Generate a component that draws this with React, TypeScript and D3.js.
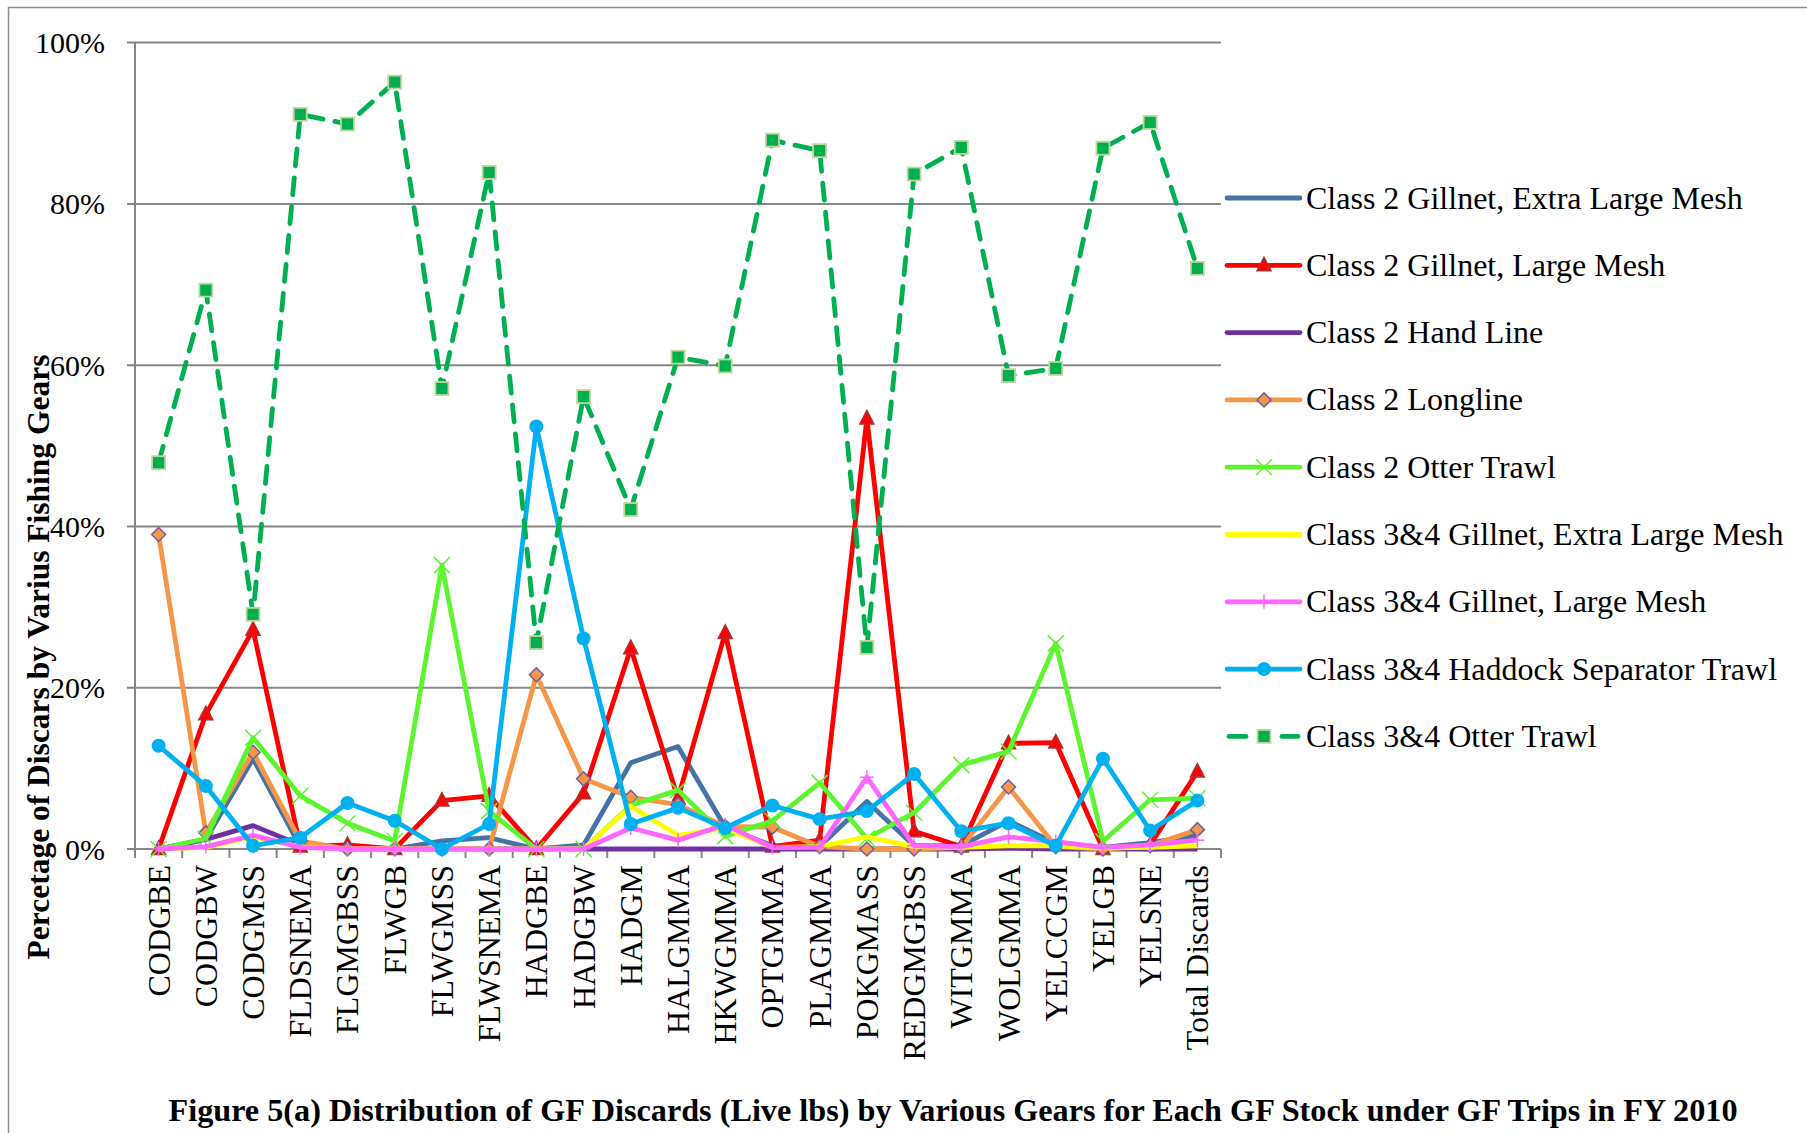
import * as d3 from "d3";
import React from "react";

const categories = [
	"CODGBE", "CODGBW", "CODGMSS", "FLDSNEMA", "FLGMGBSS", "FLWGB", "FLWGMSS",
	"FLWSNEMA", "HADGBE", "HADGBW", "HADGM", "HALGMMA", "HKWGMMA", "OPTGMMA",
	"PLAGMMA", "POKGMASS", "REDGMGBSS", "WITGMMA", "WOLGMMA", "YELCCGM",
	"YELGB", "YELSNE", "Total Discards",
];

// percentages
const gillnetXL2 = [0, 1.2, 11.2, 0.3, 0, 0, 1.0, 1.4, 0, 0.5, 10.7, 12.7, 2.7, 0.4, 0.3, 5.9, 0.4, 0.4, 3.5, 0.7, 0.2, 0.8, 1.7];
const gillnetLM2 = [0, 16.7, 27.2, 0.3, 0.5, 0, 6.0, 6.6, 0, 6.9, 24.9, 6.3, 26.8, 0.3, 1.1, 53.4, 2.2, 0.3, 13.1, 13.2, 0, 0.5, 9.6];
const handLine2 = [0, 1.2, 2.9, 0.5, 0, 0, 0, 0, 0, 0, 0, 0, 0, 0, 0, 0, 0, 0, 0.1, 0, 0, 0, 0];
const longline2 = [39.0, 2.0, 12.0, 1.0, 0, 0, 0, 0, 21.6, 8.7, 6.4, 5.5, 2.8, 2.7, 0.3, 0, 0, 0.2, 7.7, 0.3, 0, 0.4, 2.4];
const otterTrawl2 = [0, 1.3, 13.8, 6.6, 3.2, 1.0, 35.2, 4.7, 0, 0, 5.4, 7.3, 1.6, 3.5, 8.2, 1.3, 4.5, 10.4, 12.1, 25.5, 1.0, 6.1, 6.3];
const gillnetXL34 = [0, 0.2, 1.5, 0.3, 0, 0, 0, 0, 0, 0, 5.3, 1.7, 2.6, 0.2, 0.3, 1.5, 0.3, 0.2, 0.4, 0.4, 0.1, 0.2, 0.4];
const gillnetLM34 = [0, 0.3, 1.7, 0.2, 0, 0, 0, 0, 0, 0, 2.6, 1.1, 3.0, 0.2, 0.2, 8.9, 0.4, 0.3, 1.5, 0.9, 0.2, 0.5, 1.1];
const separator34 = [12.8, 7.8, 0.4, 1.4, 5.7, 3.5, 0, 3.1, 52.4, 26.1, 3.1, 5.1, 2.6, 5.4, 3.7, 4.7, 9.3, 2.2, 3.2, 0.4, 11.2, 2.3, 6.0];
const otterTrawl34 = [47.9, 69.3, 29.1, 91.1, 89.9, 95.1, 57.1, 83.9, 25.6, 56.1, 42.1, 61.0, 59.9, 87.9, 86.6, 25.0, 83.7, 87.0, 58.7, 59.6, 86.9, 90.1, 72.0];

const yTicks = [0, 20, 40, 60, 80, 100];

type Marker = "none" | "triangle" | "diamond" | "x" | "plus" | "circle" | "square";

const series: { name: string; values: number[]; color: string; marker: Marker; dashed?: boolean }[] = [
	{ name: "Class 2 Gillnet, Extra Large Mesh", values: gillnetXL2, color: "#4572A7", marker: "none" },
	{ name: "Class 2 Gillnet, Large Mesh", values: gillnetLM2, color: "#FF0000", marker: "triangle" },
	{ name: "Class 2 Hand Line", values: handLine2, color: "#7030A0", marker: "none" },
	{ name: "Class 2 Longline", values: longline2, color: "#F79646", marker: "diamond" },
	{ name: "Class 2 Otter Trawl", values: otterTrawl2, color: "#5CF52E", marker: "x" },
	{ name: "Class 3&4 Gillnet, Extra Large Mesh", values: gillnetXL34, color: "#FFFF00", marker: "none" },
	{ name: "Class 3&4 Gillnet, Large Mesh", values: gillnetLM34, color: "#FF66FF", marker: "plus" },
	{ name: "Class 3&4 Haddock Separator Trawl", values: separator34, color: "#00B0F0", marker: "circle" },
	{ name: "Class 3&4 Otter Trawl", values: otterTrawl34, color: "#00B050", marker: "square", dashed: true },
];

const W = 1807;
const H = 1133;
const plot = { left: 135, right: 1221, top: 42.6, bottom: 849 };
const FONT = "'Liberation Serif', 'Times New Roman', serif";

const drawMarker = (m: Marker, color: string, key: string | number, cx: number, cy: number) => {
	switch (m) {
		case "triangle":
			return <path key={key} d={`M${cx},${cy - 8}L${cx + 7},${cy + 5.5}L${cx - 7},${cy + 5.5}Z`} fill="#FF0000" stroke="#B03030" strokeWidth={1.5} />;
		case "diamond":
			return <path key={key} d={`M${cx},${cy - 7}L${cx + 7},${cy}L${cx},${cy + 7}L${cx - 7},${cy}Z`} fill="#F79646" stroke="#7060A0" strokeWidth={1.5} />;
		case "x":
			return <path key={key} d={`M${cx - 8},${cy - 8}L${cx + 8},${cy + 8}M${cx + 8},${cy - 8}L${cx - 8},${cy + 8}`} stroke={color} strokeWidth={1.5} />;
		case "plus":
			return <path key={key} d={`M${cx - 7},${cy}L${cx + 7},${cy}M${cx},${cy - 7}L${cx},${cy + 7}`} stroke={color} strokeWidth={1.5} />;
		case "circle":
			return <circle key={key} cx={cx} cy={cy} r={7} fill={color} />;
		case "square":
			return <rect key={key} x={cx - 6.5} y={cy - 6.5} width={13} height={13} fill="#00B050" stroke="#C3D69B" strokeWidth={1.8} />;
		default:
			return null;
	}
};

const App = () => {
	const x = d3.scaleBand().domain(categories).range([plot.left, plot.right]).padding(0);
	const y = d3.scaleLinear().domain([0, 100]).range([plot.bottom, plot.top]);
	const cx = (c: string) => (x(c) ?? 0) + x.bandwidth() / 2;

	const line = d3
		.line<number>()
		.x((_, i) => cx(categories[i]))
		.y((d) => y(d));

	const boundaries = d3.range(categories.length + 1).map((i) => plot.left + i * x.bandwidth());

	return (
		<svg width={W} height={H} style={{ position: "absolute", left: 0, top: 0, background: "#fff" }} fontFamily={FONT}>
			{/* frame */}
			<line x1={8.5} y1={7} x2={8.5} y2={H} stroke="#8c8c8c" strokeWidth={1.5} />
			<line x1={8} y1={7.5} x2={W} y2={7.5} stroke="#8c8c8c" strokeWidth={1.5} />

			{/* grid + y axis */}
			{yTicks.map((t) => (
				<g key={t}>
					<line x1={plot.left - 8} x2={plot.right} y1={y(t)} y2={y(t)} stroke="#868686" strokeWidth={2} />
					<text x={105} y={y(t)} dy="0.35em" textAnchor="end" fontSize={30}>
						{t}%
					</text>
				</g>
			))}
			<line x1={plot.left} x2={plot.left} y1={plot.top} y2={plot.bottom} stroke="#868686" strokeWidth={2} />
			{boundaries.map((b, i) => (
				<line key={i} x1={b} x2={b} y1={plot.bottom} y2={plot.bottom + 9} stroke="#868686" strokeWidth={2} />
			))}

			{/* x labels */}
			{categories.map((c) => (
				<text
					key={c}
					transform={`translate(${cx(c)},${plot.bottom + 16}) rotate(-90)`}
					textAnchor="end"
					dominantBaseline="central"
					fontSize={32}
				>
					{c}
				</text>
			))}

			{/* series */}
			{series.map((s) => (
				<g key={s.name}>
					<path
						d={line(s.values) ?? ""}
						fill="none"
						stroke={s.color}
						strokeWidth={4.8}
						strokeLinejoin="round"
						strokeLinecap={s.dashed ? "round" : "butt"}
						strokeDasharray={s.dashed ? "17 12" : undefined}
					/>
					{s.values.map((v, i) => drawMarker(s.marker, s.color, i, cx(categories[i]), y(v)))}
				</g>
			))}

			{/* legend */}
			{series.map((s, i) => {
				const ly = 198 + i * 67.3;
				return (
					<g key={s.name}>
						{s.dashed ? (
							<>
								<line x1={1229} x2={1246} y1={ly} y2={ly} stroke={s.color} strokeWidth={4.8} strokeLinecap="round" />
								<line x1={1282} x2={1298} y1={ly} y2={ly} stroke={s.color} strokeWidth={4.8} strokeLinecap="round" />
							</>
						) : (
							<line x1={1227} x2={1300} y1={ly} y2={ly} stroke={s.color} strokeWidth={4.8} strokeLinecap="round" />
						)}
						{drawMarker(s.marker, s.color, "m", 1264, ly)}
						<text x={1306} y={ly} dy="0.33em" fontSize={32}>
							{s.name}
						</text>
					</g>
				);
			})}

			{/* axis title */}
			<text
				transform="translate(38,657) rotate(-90)"
				textAnchor="middle"
				dominantBaseline="central"
				fontWeight="bold"
				fontSize={31.5}
			>
				Percetage of Discars by Varius Fishing Gears
			</text>

			{/* figure caption */}
			<text x={953} y={1121} textAnchor="middle" fontWeight="bold" fontSize={31} textLength={1569} lengthAdjust="spacingAndGlyphs">
				Figure 5(a) Distribution of GF Discards (Live lbs) by Various Gears for Each GF Stock under GF Trips in FY 2010
			</text>
		</svg>
	);
};

export default App;
